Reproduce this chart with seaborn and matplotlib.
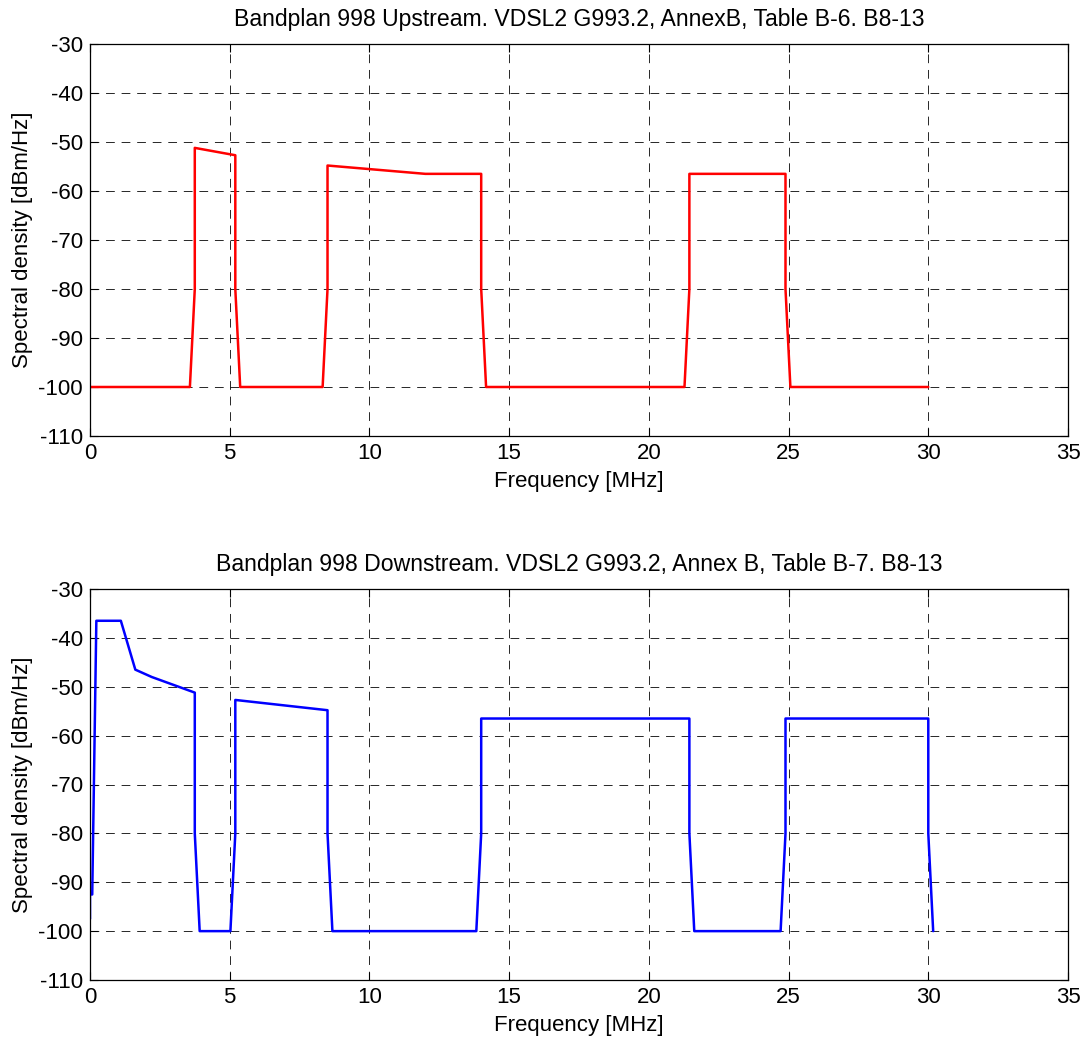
import matplotlib
matplotlib.use("Agg")
import matplotlib.pyplot as plt
import seaborn as sns
import pandas as pd

# Upstream mask (MHz, dBm/Hz)
us_freq = [0, 3.575, 3.75, 3.75, 5.2, 5.2, 5.375, 8.325, 8.5, 8.5, 12.0, 14.0, 14.0, 14.175,
           21.275, 21.45, 21.45, 24.89, 24.89, 25.065, 30.0]
us_psd = [-100, -100, -80, -51.2, -52.7, -80, -100, -100, -80, -54.8, -56.5, -56.5, -80, -100,
          -100, -80, -56.5, -56.5, -80, -100, -100]

# Downstream mask (MHz, dBm/Hz)
ds_freq = [0, 0, 0.08, 0.2271, 1.104, 1.622, 2.208, 3.75, 3.75, 3.925, 5.025, 5.2, 5.2, 8.5, 8.5,
           8.675, 13.825, 14.0, 14.0, 21.45, 21.45, 21.625, 24.715, 24.89, 24.89, 30.0, 30.0, 30.175]
ds_psd = [-97.5, -92.5, -92.5, -36.5, -36.5, -46.5, -48.0, -51.2, -80, -100, -100, -80, -52.7, -54.8, -80,
          -100, -100, -80, -56.5, -56.5, -80, -100, -100, -80, -56.5, -56.5, -80, -100]

titles = ["Bandplan 998 Upstream. VDSL2 G993.2, AnnexB, Table B-6. B8-13",
          "Bandplan 998 Downstream. VDSL2 G993.2, Annex B, Table B-7. B8-13"]
xlabel = "Frequency [MHz]"
ylabel = "Spectral density [dBm/Hz]"
xticks = [0, 5, 10, 15, 20, 25, 30, 35]
yticks = [-110, -100, -90, -80, -70, -60, -50, -40, -30]

sns.set_style("white")
plt.rcParams['font.family'] = ['Liberation Sans', 'DejaVu Sans']
plt.rcParams['text.color'] = 'black'
plt.rcParams['axes.labelcolor'] = 'black'

FS = 16

W, H = 1090, 1038
fig = plt.figure(figsize=(W / 100, H / 100), dpi=100)

def px_axes(left, top, right, bottom):
    return fig.add_axes([left / W, 1 - bottom / H, (right - left) / W, (bottom - top) / H])

ax1 = px_axes(90, 44, 1068, 436)
ax2 = px_axes(90, 589, 1068, 980)

df_us = pd.DataFrame({"f": us_freq, "p": us_psd})
df_ds = pd.DataFrame({"f": ds_freq, "p": ds_psd})

for ax, df, color, title in [(ax1, df_us, "#ff0000", titles[0]), (ax2, df_ds, "#0000ff", titles[1])]:
    sns.lineplot(data=df, x="f", y="p", ax=ax, sort=False, estimator=None, color=color, linewidth=1.8)
    ax.set_xlim(0, 35)
    ax.set_ylim(-110, -30)
    ax.set_xticks(xticks)
    ax.set_yticks(yticks)
    ax.set_xticklabels([str(t) for t in xticks])
    ax.set_yticklabels([str(t) for t in yticks])
    ax.grid(True, color="black", linestyle=(0, (9, 7)), linewidth=0.7, alpha=0.85)
    ax.tick_params(direction="in", length=6, width=0.8, top=True, right=True, bottom=True, left=True,
                   labelsize=FS, pad=5, colors="black")
    for s in ax.spines.values():
        s.set_color("black")
        s.set_linewidth(0.9)
    ax.set_title(title, fontsize=16.6, pad=13, color="black")
    ax.set_xlabel(xlabel, fontsize=FS, labelpad=5)
    ax.set_ylabel(ylabel, fontsize=FS, labelpad=4)

fig.savefig("out.png", dpi=100, facecolor="white")
